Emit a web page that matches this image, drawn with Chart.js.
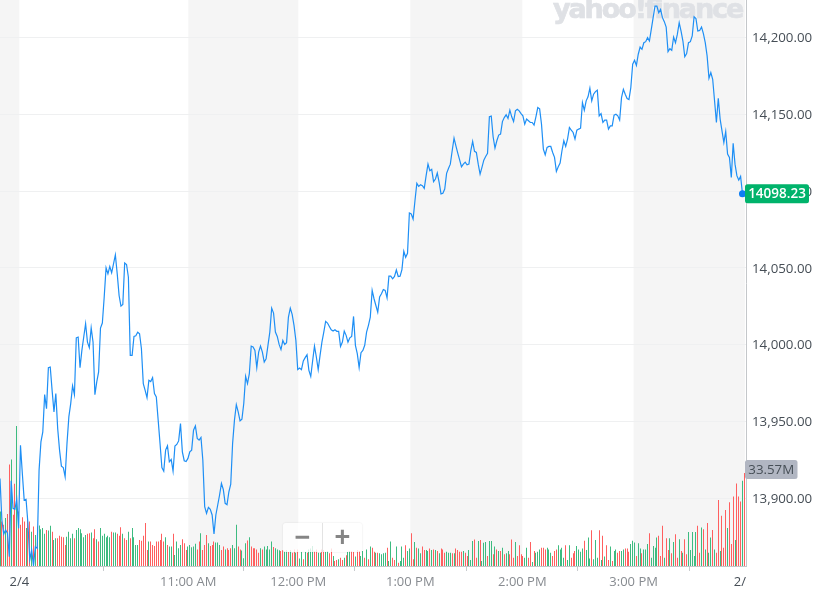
<!DOCTYPE html>
<html>
<head>
<meta charset="utf-8">
<script src="https://cdn.jsdelivr.net/npm/chart.js@4"></script>
<style>
html,body{margin:0;padding:0;background:#fff;width:818px;height:591px;overflow:hidden}
#wrap{position:relative;width:818px;height:591px}
canvas{position:absolute;left:0;top:0}
#zoom{position:absolute;left:283px;top:523px;width:79px;height:29px;background:rgba(255,255,255,.8);border-radius:3px;box-shadow:0 0 2px rgba(0,0,0,.12);display:flex;font:bold 27px "Liberation Sans",sans-serif;color:#858585;line-height:28px;text-align:center}
#zoom span{flex:1}
#zoom span+span{border-left:1px solid #e3e3e3}
</style>
</head>
<body>
<div id="wrap">
<canvas id="c" width="818" height="591"></canvas>
<div id="zoom"><span>−</span><span>+</span></div>
</div>
<script>
const prices = [
13913,13885.9,13876.8,13879.4,13877.3,13862.1,13911.5,13893.5,13892.9,13899.4,
13880.5,13934.6,13916.2,13898.9,13899.4,13883.8,13860,13866.5,13856.1,13868.6,
13867.5,13918.4,13936.8,13943.3,13967.5,13958.4,13985.1,13985.5,13970.3,13956.3,
13968.2,13945.5,13931.4,13921,13920.1,13914.1,13935.7,13953,13961.7,13973.2,
13967.5,14004.5,14005,13985.1,13996.3,14005,14013.6,14001.7,13998.1,14011,
14001.7,13967.5,13975.8,13982.3,14010.8,14014.1,14031,14050,14046.1,14050.9,
14046.8,14052.6,14058.4,14046.1,14032,14025.1,14026.2,14053.2,14052.2,14043.9,
13993.1,13993.1,14005.4,14005.8,14008.2,14007.1,13997.4,13974.7,13970.3,13965.6,
13976.8,13976,13978.6,13968.2,13966,13950.9,13935.7,13920.1,13917.7,13931.4,
13934.2,13923.8,13925.3,13917.7,13934,13935.1,13937.4,13948.7,13930.3,13924.5,
13924,13926,13930.3,13931.4,13944.4,13947.2,13939,13937.9,13939.6,13924.9,
13894.6,13890.3,13894.2,13892.9,13889.2,13876.8,13889.2,13895.7,13902.2,13909.7,
13905.8,13896.8,13895.9,13904.3,13909.3,13935.7,13950.9,13961,13956.3,13950.4,
13951.5,13961.7,13979.4,13974.7,13981.2,13999.1,13998.5,13996.3,13985.1,13995.2,
13999.1,13995.2,13988.7,13990.9,13999.6,14008.2,14023.8,14020.6,14008.2,14005.4,
14000.2,13996.8,14002.8,14000.2,14001.3,14018,14023.8,14019.7,14012.6,14002.8,
13983.8,13984.8,13983.8,13989.4,13991.6,13993.5,13983.3,13979.4,13989.4,13999.1,
13992,13983.8,13993.1,14001.7,14008.2,14015.2,14014.1,14011.9,14009.7,14008.9,
14009.7,14008.7,14008.7,13998.9,14001.7,14008.9,14006.1,14001.7,14004.5,14005.4,
14018.4,13999.6,13994.2,13985.1,13994.8,13996.3,13999.6,14008.2,14012.6,14018,
14035.3,14029.9,14025.5,14021.2,14031,14033.1,14035.9,14035.3,14030.5,14044.6,
14044.6,14042.9,14044.4,14048.7,14044.4,14044.6,14048.9,14060.8,14056.9,14059.5,
14085.7,14085.1,14081.8,14093.7,14105,14103,14104.1,14103.5,14101.7,14110,
14117.5,14113.2,14114.1,14106.1,14107.8,14111.7,14105.6,14098.1,14098.5,14101.3,
14111.5,14114.7,14117.5,14126.2,14134.4,14129.4,14124.7,14120.3,14115.8,14117.5,
14118.8,14117.1,14117.5,14126.2,14132.3,14125.8,14125.1,14117.5,14111,14115.4,
14120.1,14122.5,14124.5,14148.3,14148.7,14135.3,14127.9,14132.7,14136.4,14137,
14145.2,14147.8,14149.6,14147.2,14152.6,14148.3,14145.2,14152.2,14153.2,14152.2,
14150.4,14148.9,14143.5,14146.8,14145.7,14144.6,14144.6,14142.9,14148.3,14154.3,
14153.5,14143.5,14127.3,14123.6,14128.4,14129,14129,14125.1,14121.9,14112.8,
14115.8,14118.2,14126.2,14132.7,14129,14133.8,14141.3,14139.6,14138.1,14133.8,
14139.6,14140.3,14140.9,14157.6,14152.6,14158.7,14161.3,14166.9,14158.7,14163,
14164.7,14165.6,14148.9,14150.4,14144.6,14146.1,14146.1,14140.3,14142.4,14142.4,
14149.4,14150,14148.9,14146.1,14160.8,14166.2,14163,14160.2,14159.5,14167.3,
14182.5,14185.1,14181.8,14189,14193.7,14192.2,14196.5,14197.2,14199.8,14197.6,
14205.2,14212.8,14220.3,14220.3,14216,14218.2,14212.8,14210.2,14206.7,14190.7,
14192.6,14191.6,14200.2,14196.5,14201.9,14209.5,14204.1,14197.6,14187.4,14189.4,
14196.5,14197.2,14200.9,14213.4,14212.3,14204.1,14204.5,14206.7,14202.4,14196.5,
14187.9,14173.4,14177.1,14172.7,14158.7,14144.6,14160.4,14146.8,14139.2,14131.6,
14138.7,14124,14121.9,14108.9,14131,14117.5,14110,14107.1,14109.5,14098.23
];
// volume in millions; positive = up minute (green), negative = down minute (red)
const signedVolumes = [
19.7,-16.1,-14.9,17.3,-18.8,-36.6,38.4,-18.5,-29.7,50.5,
-19.7,-14.9,-17.6,-16.1,13.7,-18.1,-16.1,12.4,-14.3,11.2,
-14.3,14.6,13.3,13.7,11.6,-13,12.8,14.5,-12.4,9.4,
10,-10,-10.9,-10.6,-10.4,-7.6,10.6,12.4,10,11.6,
-10,13,13.7,13.3,11.8,10.4,11.2,-11.6,-11.8,12.1,
-10,-13.3,9.7,-8.8,13.7,10.9,11.6,10.4,10.9,10.4,
-12.4,12.1,12.1,-11.6,-10.9,-14,11.6,-10,-9.4,12.4,
-10,13.7,10.4,7.6,7.6,-9.4,-9.1,-10.9,-15.5,-5.8,
8.8,-8.8,-7.6,-7.2,-8.8,-8.8,-9.4,-11.6,-8.8,10.4,
-7.6,7,7,-11.6,4,8.8,6.4,7.6,-9.7,-8.2,
-5.8,7,7.6,6.8,7,8,-6,-8.8,11.8,-5.8,
-7.6,-11.2,8.2,-7.2,-7.6,-8.8,8.5,8.5,7.6,-5.8,
-7,6,-6.4,-5.8,-6.4,7.6,6.4,14.9,-7,-6,
5.6,2.8,8.2,-9.2,10.4,-7,-6.4,-6.4,-6,-4.8,
6.4,-6,7,6,7.2,6,8.8,-6.9,6.4,6,
5.7,-5.4,-5.7,5.1,5.8,-5.1,5.8,-4.8,-6,4.8,
-6,2.7,5.1,-2.4,5.1,-4.8,6,6.3,7.2,-5.4,
-6,4.8,4.8,-6,-5.8,5.1,5.4,-4.6,-6.3,3.6,
-1.8,-2.2,2.4,-3,-2.2,3,-3.9,5.1,5.4,-5.4,
-5.1,3.4,-5.8,-5.4,3.6,5.4,-3,6,-2.4,7,
-6.6,-5.1,4.8,-4.8,4.6,4.2,4.6,4.8,-6.6,1.8,
8.8,-3,-2.2,7,-1.2,1.8,7,3,-7.5,5.4,
6.3,-11.8,-2.4,8.7,-6.6,6.3,4.6,-7,-5.8,5.8,
5.4,-6.3,5.8,-6,5.8,-5.4,4.6,-6.3,-6,-4.8,
5.1,4.8,4.8,-4.6,4.6,-6.3,-5.8,-5.1,-5.1,5.4,
-4.8,-3.6,5.8,2.2,9,-9.6,-3,9,-9.4,1.8,
8.4,8.7,-3.6,9,9,-4.2,7,-6,5.4,-5.4,
6.6,-4.2,4.6,5.4,-4.2,-9.6,-3,8.7,-3.6,-7.5,
-4.2,-3.6,3,6.6,-3,-8.7,1.4,-5.4,4.8,5.1,
6,-6.6,-6.6,-6,6.6,6,4.8,-3.6,-5.4,-6,
7.5,6,6.6,3,-7.5,2.2,7.5,-3,-4.6,-5.4,
7.2,6,5.1,6.3,-9.1,5.8,10.3,2.7,-12.9,2.4,
9.4,3,-12.9,2.2,-10.9,3.4,-7.5,-2.2,7,-1.8,
5.4,6,-4.8,-5.4,5.4,6,-6.3,-6.3,-5.1,7.9,
9.1,8.5,-3.6,8.2,6.3,-4.6,6,6,7.9,-11.8,
3,7.2,6.6,10.3,-10.9,-3.6,-14.5,3,-10,-5.8,
10,-4.6,8.7,-11.5,-3,9.7,-5.4,4.8,-9.7,-4.2,
12.3,5.8,12.3,3.6,12.3,-14.5,-4.8,13.9,-13.3,6,
-15.5,4.8,10.3,-13,6,-4.8,-23.8,5.4,-18.1,-6.6,
-20.2,13.7,-23,-7.9,-25.1,9.4,-29.8,-25.1,-23.3,30.8,
-33.57
];
const xTickPositions = [10.4,101.2,160.3,220.5,280.7,340.5,400.3];
const xTickLabels = ['2/4','11:00 AM','12:00 PM','1:00 PM','2:00 PM','3:00 PM','2/   '];
const yTickValues = [13900,13950,14000,14050,14100,14150,14200];
const sessionBands = [[0,10.4],[101.2,160.3],[220.5,280.7],[340.5,400.3]];
const lastPriceLabel = '14098.23';
const lastVolumeLabel = '33.57M';
const watermarkText = 'yahoo!finance';

const UP='#3dbb80', DOWN='#ff5f5f', LINE='#1e8ff5', TEXT='#464e56', MUTED='#878b90';
const FONT='"Open Sans",sans-serif';

const noPad = s => { s.paddingLeft=s.paddingRight=s.paddingTop=s.paddingBottom=0; };

const decor = {
  id:'decor',
  beforeDraw(ch){
    const {ctx,chartArea:a,scales:{x}}=ch;
    ctx.save();ctx.fillStyle='#f5f5f5';
    sessionBands.forEach(([s,e])=>{const l=x.getPixelForValue(s),r=x.getPixelForValue(e);ctx.fillRect(l,a.top,r-l,a.bottom-a.top);});
    ctx.restore();
  },
  beforeDatasetsDraw(ch){
    const ctx=ch.ctx;
    ctx.save();ctx.fillStyle='#dfe1e5';ctx.strokeStyle='#dfe1e5';ctx.lineWidth=.7;ctx.font='bold 27px "DejaVu Sans"';ctx.textBaseline='alphabetic';ctx.textAlign='left';
    ctx.letterSpacing='-2.1px';
    ctx.fillText(watermarkText,553,18);
    ctx.strokeText(watermarkText,553,18);
    ctx.restore();
    // snap the thin volume bars to whole device pixels
    ch.getDatasetMeta(1).data.forEach(el=>{el.x=Math.floor(el.x)+.5;});
  },
  afterDraw(ch){
    const {ctx,scales:{y}}=ch;
    const tag=(l,w,cy,bg,fg,t,f)=>{
      ctx.save();ctx.fillStyle=bg;ctx.beginPath();ctx.roundRect(l,cy-9.5,w,19,2.5);ctx.fill();
      ctx.fillStyle=fg;ctx.font=f;ctx.textAlign='center';ctx.textBaseline='middle';ctx.fillText(t,l+w/2,cy+.5);ctx.restore();
    };
    tag(745,64,y.getPixelForValue(prices[prices.length-1]),'#00b36b','#fff',lastPriceLabel,'600 13.5px '+FONT);
    tag(745,52.5,469.5,'#b1b6c2',TEXT,lastVolumeLabel,'13.3px '+FONT);
  }
};

new Chart(document.getElementById('c'),{
  type:'bar',
  plugins:[decor],
  data:{datasets:[
    {type:'line',order:0,data:prices.map((p,i)=>({x:i,y:p})),yAxisID:'y',borderColor:LINE,borderWidth:1.2,tension:0,
     pointRadius:c=>c.dataIndex===prices.length-1?3.5:0,pointBackgroundColor:'#0d7ef2',pointBorderWidth:0},
    {type:'bar',order:1,data:signedVolumes.map((v,i)=>({x:i,y:Math.abs(v)})),yAxisID:'yv',barThickness:1,inflateAmount:0,
     backgroundColor:signedVolumes.map(v=>v<0?DOWN:UP)}
  ]},
  options:{
    responsive:false,animation:false,devicePixelRatio:1,
    layout:{padding:0,autoPadding:false},
    plugins:{legend:{display:false},tooltip:{enabled:false}},
    scales:{
      x:{type:'linear',min:0,max:400.9,offset:false,
        grid:{display:true,drawOnChartArea:false,drawTicks:true,tickLength:5,color:'#c8cbce'},
        border:{color:'#c4c7ca',width:1},
        afterBuildTicks:s=>{s.ticks=xTickPositions.map(v=>({value:v}));},
        afterFit:s=>{s.height=25;noPad(s);},
        ticks:{autoSkip:false,maxRotation:0,padding:3,font:{family:'"Open Sans"',size:13},
          color:c=>(c.index===0||c.index===xTickLabels.length-1)?TEXT:MUTED,
          callback:(v,i)=>xTickLabels[i]}
      },
      y:{position:'right',min:13856,max:14224.3,
        grid:{color:'#eff0f1',drawTicks:false},
        border:{color:'#c4c7ca',width:1},
        afterBuildTicks:s=>{s.ticks=yTickValues.map(v=>({value:v}));},
        afterFit:s=>{s.width=72;noPad(s);},
        ticks:{padding:6,labelOffset:1,autoSkip:false,color:TEXT,font:{family:'"Open Sans"',size:13.3},
          callback:v=>v.toLocaleString('en-US',{minimumFractionDigits:2,maximumFractionDigits:2})}
      },
      yv:{display:false,min:0,max:204.3}
    }
  }
});
</script>
</body>
</html>
